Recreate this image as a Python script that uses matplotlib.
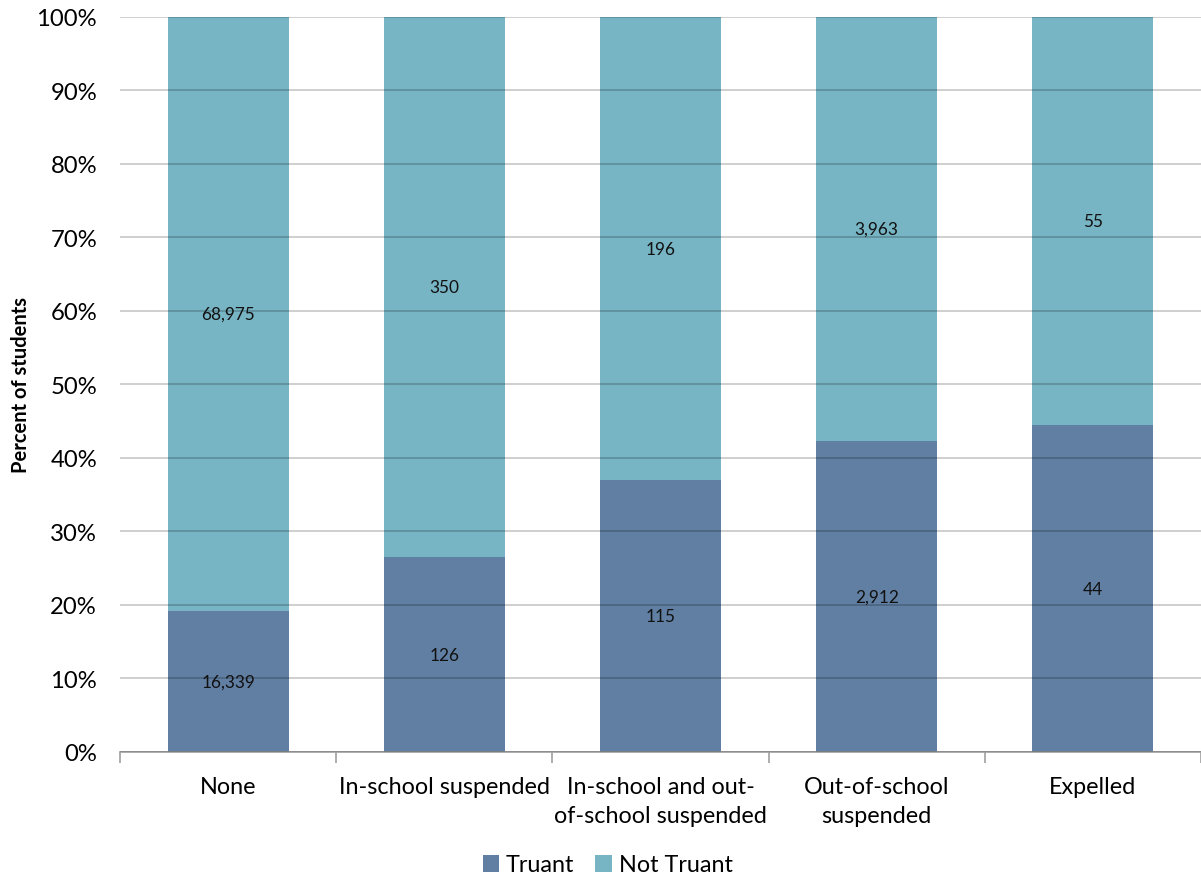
"""Truancy by discipline outcome, 100% stacked bars."""

import numpy as np
from matplotlib import pyplot
from matplotlib.ticker import FixedLocator, PercentFormatter

categories = [
    "None",
    "In-school suspended",
    "In-school and out-\nof-school suspended",
    "Out-of-school\nsuspended",
    "Expelled",
]
truant = [16339, 126, 115, 2912, 44]
not_truant = [68975, 350, 196, 3963, 55]

pyplot.rcParams["font.family"] = ["Lato", "DejaVu Sans"]

TRUANT_COLOR = "#607fa3"
NOT_TRUANT_COLOR = "#77b4c4"


def main():
    t = np.array(truant, dtype=float)
    n = np.array(not_truant, dtype=float)
    total = t + n
    t_pct = t / total * 100
    n_pct = n / total * 100
    x = np.arange(len(categories))

    fig = pyplot.figure(figsize=(12.01, 8.78), dpi=100)
    ax = fig.add_axes([0.0999, 0.1424, 0.9001, 0.8371])

    width = 0.56
    ax.bar(x, t_pct, width, color=TRUANT_COLOR, label="Truant", zorder=1)
    ax.bar(x, n_pct, width, bottom=t_pct, color=NOT_TRUANT_COLOR,
           label="Not Truant", zorder=1)

    for i in range(len(x)):
        ax.text(x[i], t_pct[i] / 2, f"{truant[i]:,}", ha="center",
                va="center", fontsize=12.4, color="#111111", zorder=3)
        ax.text(x[i], t_pct[i] + n_pct[i] / 2, f"{not_truant[i]:,}",
                ha="center", va="center", fontsize=12.4, color="#111111",
                zorder=3)

    ax.set_ylim(0, 100)
    ax.set_xlim(-0.5, len(x) - 0.5)
    ax.yaxis.set_major_locator(FixedLocator(np.arange(0, 101, 10)))
    ax.yaxis.set_major_formatter(PercentFormatter(decimals=0))
    ax.grid(True, axis="y", color="#000000", alpha=0.22, linewidth=1.2,
            zorder=2)
    ax.set_axisbelow(False)
    ax.tick_params(axis="y", length=0, labelsize=17.2, pad=16.5)

    ax.set_xticks(x)
    ax.set_xticklabels(categories, fontsize=16.8, linespacing=1.5)
    ax.set_xticks(np.arange(-0.5, len(x), 1), minor=True)
    ax.tick_params(axis="x", which="major", length=0, pad=17)
    ax.tick_params(axis="x", which="minor", length=8, color="#a0a0a0",
                   width=1.2)

    for side in ("left", "right", "top"):
        ax.spines[side].set_visible(False)
    ax.spines["bottom"].set_color("#a0a0a0")
    ax.spines["bottom"].set_linewidth(1.2)

    ax.set_ylabel("Percent of students", fontsize=14.5, fontweight="bold")
    ax.yaxis.set_label_coords(-0.082, 0.5)

    fig.legend(loc="center", bbox_to_anchor=(0.506, 12 / 878), ncol=2,
               frameon=False, fontsize=16.8, handlelength=0.7,
               handleheight=0.7, handletextpad=0.3, columnspacing=0.9,
               borderpad=0, borderaxespad=0)

    fig.savefig("out.png", dpi=100)


if __name__ == "__main__":
    main()
